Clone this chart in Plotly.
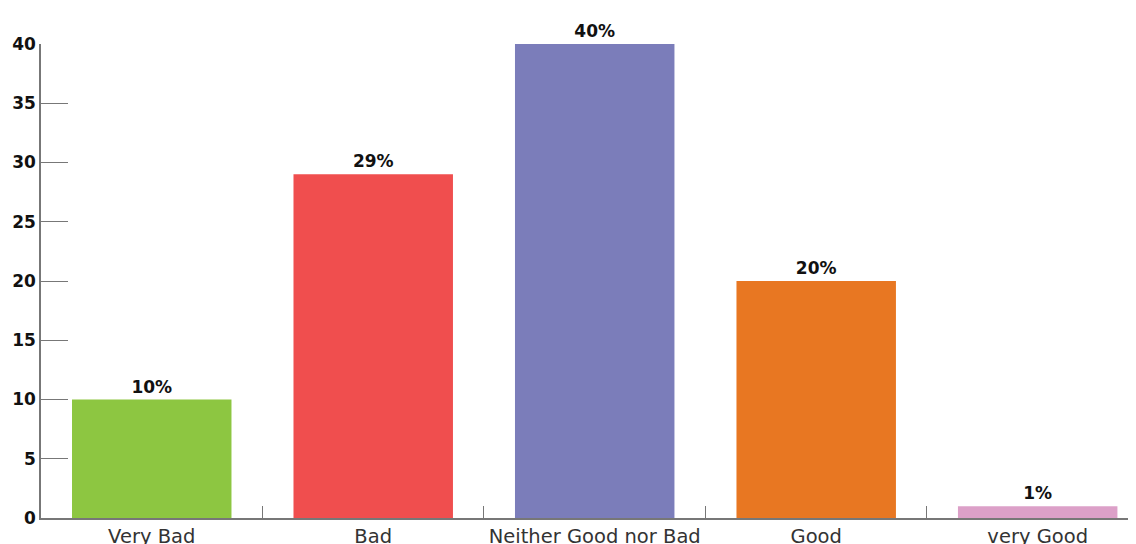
import plotly.graph_objects as go

categories = ["Very Bad", "Bad", "Neither Good nor Bad", "Good", "very Good"]
values = [10, 29, 40, 20, 1]
labels = ["10%", "29%", "40%", "20%", "1%"]
colors = ["#8DC641", "#F04E4E", "#7B7DBA", "#E87722", "#DCA0C8"]
y_ticks = [0, 5, 10, 15, 20, 25, 30, 35, 40]

fig = go.Figure(go.Bar(
    x=categories, y=values, text=labels, textposition="outside",
    marker=dict(color=colors, line=dict(width=0)),
    width=0.72, cliponaxis=False,
    textfont=dict(family="DejaVu Sans", size=17, color="#111111", weight="bold"),
))

fig.update_layout(
    width=1136, height=544,
    margin=dict(l=33, r=0, t=36, b=34),
    plot_bgcolor="white", paper_bgcolor="white",
    showlegend=False,
    font=dict(family="DejaVu Sans"),
)
fig.update_xaxes(
    range=[-0.5, 4.48], showgrid=False, showline=True, linecolor="#777777", linewidth=1.5,
    ticks="inside", tickson="boundaries", ticklen=12, tickcolor="#777777",
    tickfont=dict(size=19.5, color="#333333"), automargin=False, ticklabelstandoff=0,
)
fig.update_yaxes(
    range=[0, 40], tickvals=y_ticks, showgrid=False, zeroline=False,
    showline=True, linecolor="#777777", linewidth=1.5,
    ticks="inside", ticklen=27, tickcolor="#777777", automargin=False,
    tickfont=dict(size=17, color="#111111", weight="bold"),
)
fig.write_html("out.html")
